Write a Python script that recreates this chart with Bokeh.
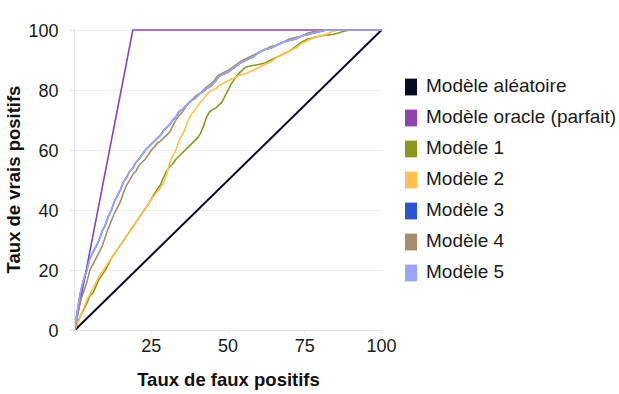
from bokeh.plotting import figure
from bokeh.layouts import row
from bokeh.models import Legend, LegendItem, FixedTicker, Range1d
from bokeh.embed import file_html
from bokeh.resources import INLINE

# ---------------- data ----------------
series_names = ["Modèle aléatoire", "Modèle oracle (parfait)", "Modèle 1",
                "Modèle 2", "Modèle 3", "Modèle 4", "Modèle 5"]
series_colors = ["#0a0a22", "#8e44ad", "#8a981f", "#ffc04e",
                 "#2c55d6", "#a88b6c", "#9aa5fc"]

random_fpr = [0, 100]
random_tpr = [0, 100]

oracle_fpr = [0, 19, 100]
oracle_tpr = [0, 100, 100]

m1_fpr = [0, 2, 4, 5, 6, 8, 10, 12, 14, 16, 18, 20, 22, 24, 26, 28, 29, 30, 31, 32,
          33, 34, 35, 36, 37, 38, 39, 40, 41, 42, 43, 44, 45, 46, 47, 48, 49, 50, 51,
          52, 53, 54, 55, 56, 58, 60, 62, 64, 66, 68, 70, 72, 74, 76, 78, 80, 82, 84,
          86, 88, 90, 100]
m1_tpr = [0, 5, 9, 11.5, 12.5, 17, 20, 24, 27, 30, 33, 36, 39, 42, 45.5, 48.5, 51,
          53, 54.5, 55.5, 57, 58, 59, 60, 61, 62, 63, 64, 65.5, 68, 71, 72.8, 73.5,
          74, 75, 76, 78, 80, 82, 83.5, 85, 86, 87, 87.7, 88.2, 88.5, 89, 90, 91, 92,
          93, 94.5, 96, 97, 97.5, 98, 98.3, 98.5, 99, 99.7, 100, 100]

m2_fpr = [0, 2, 4, 6, 8, 10, 12, 14, 16, 18, 20, 22, 24, 26, 28, 29, 30, 31, 32, 33,
          34, 35, 36, 37, 38, 39, 40, 41, 42, 43, 44, 45, 46, 47, 48, 50, 52, 54, 56,
          58, 60, 62, 64, 66, 68, 70, 72, 74, 76, 78, 80, 82, 84, 86, 100]
m2_tpr = [0, 5, 10, 14, 18, 21, 24, 27, 30, 33, 36, 39, 42, 45, 47.5, 49, 52, 56,
          58, 60, 63, 65, 67, 70, 72, 73, 74.5, 76, 77, 78.5, 79.5, 80, 80.5, 81.5,
          82, 83, 84, 85, 85.5, 86.5, 87.5, 88.5, 89.5, 91, 92, 93, 94, 95.5, 96.5,
          97.5, 98, 98.5, 99.5, 100, 100]

m3_fpr = [0, 1, 2, 3, 4, 5, 6, 7, 8, 9, 10, 11, 12, 13, 14, 15, 16, 17, 18, 19, 20,
          21, 22, 23, 24, 25, 26, 27, 28, 29, 30, 31, 32, 33, 34, 35, 36, 37, 38, 39,
          40, 41, 42, 43, 44, 45, 46, 47, 48, 50, 52, 54, 56, 58, 60, 62, 64, 66, 68,
          70, 72, 74, 76, 78, 80, 82, 100]
m3_tpr = [0, 7, 13, 17, 20, 24, 26, 28, 30, 33, 35, 38, 40, 43, 45, 47, 49.5, 51, 53,
          54, 56, 57, 58.5, 60, 61, 62, 63, 64, 65, 66.5, 67.5, 68.5, 70, 71, 72.8,
          73.5, 74.5, 75.5, 76.5, 77, 78, 79, 79.5, 80.5, 81, 82, 83, 84.5, 85, 86,
          87.5, 89, 90, 91, 92.5, 93.5, 94, 95, 96, 96.5, 97, 98, 98.5, 99, 99.5, 100,
          100]

m4_fpr = [0, 1, 2, 3, 4, 5, 6, 7, 8, 9, 10, 11, 12, 13, 14, 15, 16, 17, 18, 19, 20,
          21, 22, 23, 24, 25, 26, 27, 28, 29, 30, 31, 32, 33, 34, 35, 36, 37, 38, 39,
          40, 41, 42, 43, 44, 45, 46, 47, 48, 50, 52, 54, 56, 58, 60, 62, 64, 66, 68,
          70, 72, 74, 76, 78, 80, 100]
m4_tpr = [0, 5, 10, 13, 16, 20, 22, 24, 26, 28, 31, 34, 36.5, 39, 41, 43, 46, 48.5,
          50, 52, 53, 55, 56, 57, 58.5, 60, 61, 62.5, 63, 64, 65, 66, 68, 70, 71.5,
          72.5, 74, 75.5, 76.5, 77.5, 78.5, 79, 80, 81, 81.8, 82.5, 84, 85, 85.5,
          86.5, 88, 89.5, 90.5, 91.5, 92.5, 93.5, 94.5, 95, 96, 97, 97.5, 98, 99,
          99.5, 100, 100]

m5_fpr = list(m3_fpr)
m5_tpr = [0, 7, 13, 17, 20, 24, 26, 28, 30, 33, 35, 38, 40, 43, 45, 47, 49.5, 51, 53,
          54, 56, 57, 58.5, 60, 61, 62, 63, 64, 65, 66.5, 67.5, 68.5, 70, 71, 72.8,
          73.5, 74.5, 75.5, 76.5, 77, 78, 79, 79.5, 80.5, 81, 82, 83, 84.5, 85, 86,
          87.5, 89, 90, 91, 92.5, 93.5, 94, 95, 96, 96.5, 97, 98, 98.5, 99, 99.5, 100,
          100]

x_ticks = [25, 50, 75, 100]
y_ticks = [0, 20, 40, 60, 80, 100]
x_title = "Taux de faux positifs"
y_title = "Taux de vrais positifs"

# ---------------- main figure ----------------
FONT = "Liberation Sans"
p = figure(width=400, height=394, output_backend="svg", toolbar_location=None,
           x_range=Range1d(0, 100.3), y_range=Range1d(0, 100.5),
           min_border_left=74, min_border_right=18, min_border_top=28,
           min_border_bottom=64)
p.outline_line_color = None
p.background_fill_color = "white"
p.border_fill_color = "white"
p.xgrid.visible = False
p.ygrid.grid_line_color = "#eceef3"
p.ygrid.grid_line_width = 1

p.xaxis.ticker = FixedTicker(ticks=x_ticks)
p.yaxis.ticker = FixedTicker(ticks=y_ticks)
p.xaxis.axis_label = x_title
p.yaxis.axis_label = y_title
for ax in (p.xaxis[0], p.yaxis[0]):
    ax.axis_line_color = "#dde3ee"
    ax.major_tick_line_color = "#dde3ee"
    ax.minor_tick_line_color = None
    ax.major_tick_in = 0
    ax.major_label_text_font = FONT
    ax.major_label_text_font_size = "18px"
    ax.major_label_text_color = "#1a1a1a"
    ax.axis_label_text_font = FONT
    ax.axis_label_text_font_style = "bold"
    ax.axis_label_text_font_size = "18.5px"
    ax.axis_label_text_color = "#111111"
p.xaxis.major_tick_out = 3
p.xaxis.major_label_standoff = 5
p.xaxis.axis_label_standoff = 14
p.yaxis.major_tick_out = 5
p.yaxis.major_label_standoff = 11
p.yaxis.axis_label_standoff = 1

xs = [random_fpr, oracle_fpr, m1_fpr, m2_fpr, m3_fpr, m4_fpr, m5_fpr]
ys = [random_tpr, oracle_tpr, m1_tpr, m2_tpr, m3_tpr, m4_tpr, m5_tpr]
widths = [2, 1.6, 1.6, 1.6, 1.6, 1.6, 1.6]
for x, y, c, w in zip(xs, ys, series_colors, widths):
    p.line(x, y, line_color=c, line_width=w)

# ---------------- legend figure ----------------
q = figure(width=219, height=394, output_backend="svg", toolbar_location=None,
           x_range=Range1d(0, 1), y_range=Range1d(0, 1),
           min_border_left=0, min_border_right=0, min_border_top=0,
           min_border_bottom=0)
q.axis.visible = False
q.grid.visible = False
q.outline_line_color = None
q.background_fill_color = "white"
q.border_fill_color = "white"

nan = float("nan")
items = []
for name, c in zip(series_names, series_colors):
    r = q.quad(left=[nan], right=[nan], top=[nan], bottom=[nan],
               fill_color=c, line_color=None)
    items.append(LegendItem(label=name, renderers=[r]))

legend = Legend(items=items, location=(3, 47), orientation="vertical",
                margin=0, padding=5, spacing=9, glyph_width=15, glyph_height=21,
                label_height=21, label_standoff=8,
                label_text_font=FONT, label_text_font_size="19px",
                label_text_color="#1a1a1a",
                border_line_color=None,
                background_fill_color="white", background_fill_alpha=1)
q.add_layout(legend)

layout = row(p, q)
open("out.html", "w").write(file_html(layout, INLINE))
